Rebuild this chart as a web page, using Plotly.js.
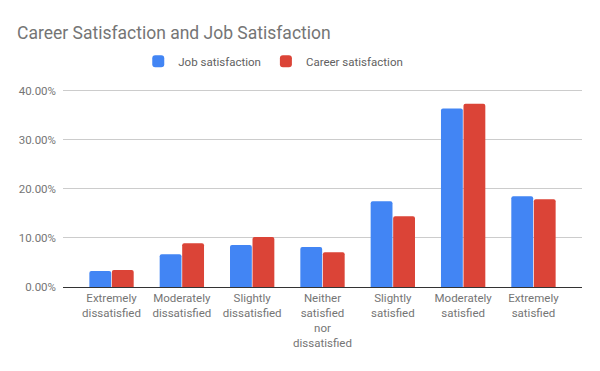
<!DOCTYPE html>
<html><head><meta charset="utf-8">
<script src="https://cdn.plot.ly/plotly-3.0.1.min.js"></script>
<style>html,body{margin:0;padding:0;background:#fff}#chart{width:600px;height:371px}</style>
</head><body><div id="chart"></div>
<script>
const categories = ["Extremely<br>dissatisfied","Moderately<br>dissatisfied","Slightly<br>dissatisfied","Neither<br>satisfied<br>nor<br>dissatisfied","Slightly<br>satisfied","Moderately<br>satisfied","Extremely<br>satisfied"];
const jobSatisfaction = [3.25, 6.7, 8.55, 8.15, 17.5, 36.4, 18.5];
const careerSatisfaction = [3.45, 8.95, 10.2, 7.1, 14.45, 37.4, 17.9];
const yTicks = [0, 10, 20, 30, 40];
const yTickText = yTicks.map(v => v.toFixed(2) + "%");

const fam = "Roboto, 'Noto Sans', sans-serif";
const data = [
  {type: "bar", name: "Job satisfaction", x: categories, y: jobSatisfaction, marker: {color: "#4285F4"}, hoverinfo: "none"},
  {type: "bar", name: "Career satisfaction", x: categories, y: careerSatisfaction, marker: {color: "#DB4437"}, hoverinfo: "none"}
];
const layout = {
  width: 600, height: 371,
  margin: {l: 63, r: 18, t: 89, b: 84},
  font: {family: fam, color: "#757575", size: 12},
  paper_bgcolor: "#fff", plot_bgcolor: "#fff",
  title: {text: "Career Satisfaction and Job Satisfaction", font: {family: fam, size: 17.5, color: "#757575"}, x: 17/600, xanchor: "left", xref: "container", y: 1 - 33/371, yanchor: "middle", yref: "container"},
  barmode: "group", bargap: 0.36, bargroupgap: 0.03, barcornerradius: 2,
  showlegend: true,
  legend: {orientation: "h", x: 0.145, xanchor: "left", y: 1.14, yanchor: "middle", font: {family: fam, size: 11.5, color: "#616161"}, itemwidth: 30},
  xaxis: {range: [-0.69, 6.69], showgrid: false, ticks: "", tickfont: {size: 11.5, color: "#757575"}, showline: true, linecolor: "#333", linewidth: 1, zeroline: false},
  yaxis: {range: [0, 40.4], tickvals: yTicks, ticktext: yTickText, gridcolor: "#cccccc", zeroline: true, zerolinecolor: "#333", zerolinewidth: 1, tickfont: {size: 11.5, color: "#757575"}, ticks: "", ticklabelstandoff: 6, fixedrange: true}
};
Plotly.newPlot("chart", data, layout, {staticPlot: true, displayModeBar: false});
</script></body></html>
